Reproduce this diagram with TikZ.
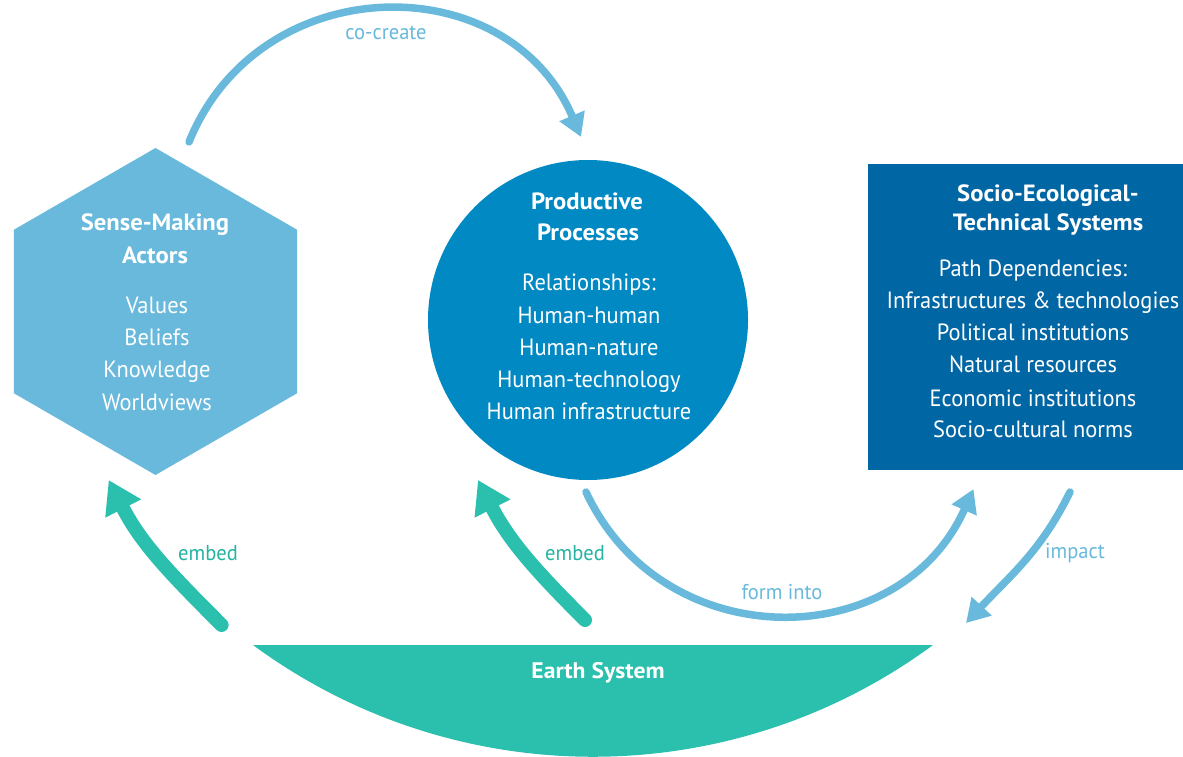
\documentclass[tikz,border=0pt]{standalone}
\usepackage{fontspec}
\setmainfont{PT Sans}[FakeStretch=0.955]
\newfontfamily\ttlfont{PT Sans}[FakeStretch=1.05]
\usetikzlibrary{arrows.meta,shapes.geometric}
\definecolor{lblue}{HTML}{68B9DB}
\definecolor{mblue}{HTML}{0089C2}
\definecolor{dblue}{HTML}{0066A4}
\definecolor{earthteal}{HTML}{2BBFAD}
\definecolor{embedtxt}{HTML}{25B3A2}
\begin{document}
\begin{tikzpicture}[x=1pt,y=-1pt,
  txt/.style={text=white,font=\fontsize{23.5}{28}\selectfont,anchor=base,inner sep=0pt},
  ttl/.style={text=white,font=\ttlfont\fontsize{23.5}{28}\selectfont\bfseries,anchor=base,inner sep=0pt},
  lbl/.style={font=\fontsize{21.5}{25}\selectfont,inner sep=0pt},
  thinarrow/.style={draw=lblue,line width=7.5pt,line cap=round,-{Triangle[length=23pt,width=26pt]}},
  thickarrow/.style={draw=earthteal,line width=14pt,line cap=round,-{Triangle[length=32pt,width=38pt]}},
]
\useasboundingbox (0,0) rectangle (1183,757);

% shapes
\node[regular polygon, regular polygon sides=6, shape border rotate=30,
      minimum size=327pt, inner sep=0pt, outer sep=0pt, fill=lblue] (actors) at (155.5,311.5) {};
\node[circle, minimum size=320pt, inner sep=0pt, outer sep=0pt, fill=mblue] (proc) at (588,320) {};
\node[rectangle, anchor=north west, minimum width=315pt, minimum height=306pt,
      inner sep=0pt, outer sep=0pt, fill=dblue] (sets) at (868,164) {};
\fill[earthteal] (253,645) -- (933,645) arc[start angle=53.6, end angle=126.4, radius=573] -- cycle;

% hexagon text
\node[ttl] (a1) at (155,230.7) {Sense-Making};
\node[ttl] (a2) at (155,263.3) {Actors};
\foreach \t/\y [count=\i] in {Values/313,Beliefs/345.7,Knowledge/377.5,Worldviews/410.7}
  \node[txt] (av\i) at (157,\y) {\t};

% circle text
\node[ttl] (p1) at (587,209.3) {Productive};
\node[ttl] (p2) at (588,240.7) {Processes};
\foreach \t/\y [count=\i] in {Relationships:/290,Human-human/323.3,Human-nature/355,Human-technology/387.3,Human infrastructure/419.3}
  \node[txt] (pv\i) at (589,\y) {\t};

% rectangle text
\node[ttl] (s1) at (1048,201.7) {Socio-Ecological-};
\node[ttl] (s2) at (1048,230) {Technical Systems};
\foreach \t/\y [count=\i] in {Path Dependencies:/276.7,Infrastructures \& technologies/308.3,Political institutions/340.7,Natural resources/372.7,Economic institutions/406,Socio-cultural norms/437.3}
  \node[txt] (sv\i) at (1033,\y) {\t};

% earth text
\node[ttl, font=\ttlfont\fontsize{22.5}{27}\selectfont\bfseries, anchor=center] (earth) at (598,673) {Earth System};

% connector end points
\coordinate (cc-s) at (189,142);
\coordinate (cc-e) at (581,137);
\coordinate (fi-s) at (586,492);
\coordinate (fi-e) at (973.5,489);
\coordinate (im-s) at (1070,492);
\coordinate (im-e) at (966,623);
\coordinate (e1-s) at (221.6,625);
\coordinate (e1-e) at (108.7,480);
\coordinate (e2-s) at (585,620);
\coordinate (e2-e) at (478,480);

% connectors (angles in canvas orientation, y up)
\draw[thinarrow] (cc-s) to[out=68,in=113,looseness=1.22] (cc-e);
\draw[thinarrow] (fi-s) to[out=-65,in=-114,looseness=1.2] (fi-e);
\draw[thinarrow] (im-s) to[out=-116,in=47] (im-e);
\draw[thickarrow] (e1-s) to[out=135,in=-63] (e1-e);
\draw[thickarrow] (e2-s) to[out=135,in=-63] (e2-e);

% labels
\node[lbl, text=lblue] (l-cc) at (386,33) {co-create};
\node[lbl, text=lblue] (l-fi) at (782,592) {form into};
\node[lbl, text=lblue] (l-im) at (1075,553) {impact};
\node[lbl, text=embedtxt] (l-e1) at (208,553) {embed};
\node[lbl, text=embedtxt] (l-e2) at (575,553) {embed};
\end{tikzpicture}
\end{document}
